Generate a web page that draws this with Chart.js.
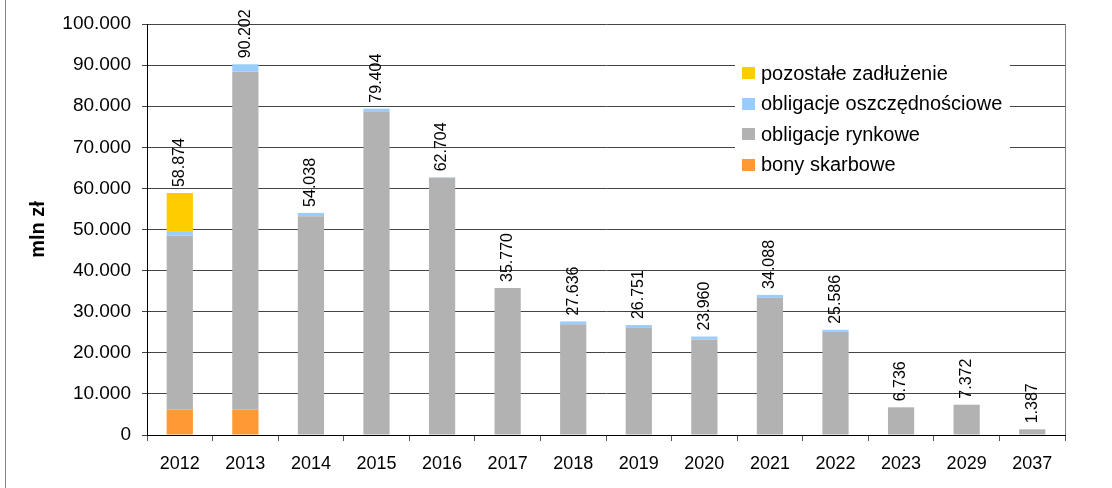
<!DOCTYPE html>
<html>
<head>
<meta charset="utf-8">
<script src="https://cdn.jsdelivr.net/npm/chart.js@4"></script>
<style>
  html, body { margin: 0; padding: 0; background: #fff; }
  #wrap { width: 1112px; height: 488px; position: relative; }
</style>
</head>
<body>
<div id="wrap"><canvas id="chart" width="1112" height="488"></canvas></div>
<script>
// --- data (mln zł) ---
const years = ['2012', '2013', '2014', '2015', '2016', '2017', '2018', '2019', '2020', '2021', '2022', '2023', '2029', '2037'];
const bonySkarbowe = [6200, 6200, 0, 0, 0, 0, 0, 0, 0, 0, 0, 0, 0, 0];
const obligacjeRynkowe = [42300, 82202, 53238, 78800, 62600, 35770, 26936, 26051, 23260, 33388, 25086, 6736, 7372, 1387];
const obligacjeOszczednosciowe = [1100, 1800, 800, 604, 104, 0, 700, 700, 700, 700, 500, 0, 0, 0];
const pozostaleZadluzenie = [9274, 0, 0, 0, 0, 0, 0, 0, 0, 0, 0, 0, 0, 0];
const yTicks = [0, 10000, 20000, 30000, 40000, 50000, 60000, 70000, 80000, 90000, 100000];

const FONT = '"Liberation Sans", Arial, sans-serif';

function fmt(v) {
  return String(Math.round(v)).replace(/\B(?=(\d{3})+(?!\d))/g, '.');
}

// legend, drawn inside the plot like the original
const legendItems = [
  {label: 'pozostałe zadłużenie', color: '#FFCC00'},
  {label: 'obligacje oszczędnościowe', color: '#99CCFF'},
  {label: 'obligacje rynkowe', color: '#B2B2B2'},
  {label: 'bony skarbowe', color: '#FF9933'}
];

const extrasPlugin = {
  id: 'extras',
  afterDatasetsDraw(chart) {
    const ctx = chart.ctx;
    const y = chart.scales.y;
    const meta = chart.getDatasetMeta(0);
    // total labels above bars, rotated
    ctx.save();
    ctx.fillStyle = '#000';
    ctx.font = '16px ' + FONT;
    ctx.textAlign = 'left';
    ctx.textBaseline = 'middle';
    years.forEach((yr, i) => {
      const total = bonySkarbowe[i] + obligacjeRynkowe[i] + obligacjeOszczednosciowe[i] + pozostaleZadluzenie[i];
      const px = meta.data[i].x;
      const py = y.getPixelForValue(total) - 6;
      ctx.save();
      ctx.translate(px, py);
      ctx.rotate(-Math.PI / 2);
      ctx.fillText(fmt(total), 0, 0);
      ctx.restore();
    });
    ctx.restore();
  },
  afterDraw(chart) {
    const ctx = chart.ctx;
    const a = chart.chartArea;
    ctx.save();
    // plot area right border
    ctx.strokeStyle = '#808080';
    ctx.lineWidth = 1;
    ctx.beginPath();
    ctx.moveTo(Math.round(a.right) + 0.5, a.top);
    ctx.lineTo(Math.round(a.right) + 0.5, a.bottom);
    ctx.stroke();
    // outer frame (left edge)
    ctx.strokeStyle = '#888';
    ctx.beginPath();
    ctx.moveTo(5.5, 0);
    ctx.lineTo(5.5, 488);
    ctx.stroke();
    // legend box
    ctx.fillStyle = '#fff';
    ctx.fillRect(735, 55, 275, 128);
    ctx.font = '20px ' + FONT;
    ctx.textAlign = 'left';
    ctx.textBaseline = 'middle';
    legendItems.forEach((it, k) => {
      const cy = 73 + k * 30.5;
      ctx.fillStyle = it.color;
      ctx.fillRect(742, Math.round(cy - 6), 13, 12);
      ctx.fillStyle = '#000';
      ctx.fillText(it.label, 761, cy + 1);
    });
    ctx.restore();
  }
};

new Chart(document.getElementById('chart'), {
  type: 'bar',
  data: {
    labels: years,
    datasets: [
      {label: 'bony skarbowe', data: bonySkarbowe, backgroundColor: '#FF9933'},
      {label: 'obligacje rynkowe', data: obligacjeRynkowe, backgroundColor: '#B2B2B2'},
      {label: 'obligacje oszczędnościowe', data: obligacjeOszczednosciowe, backgroundColor: '#99CCFF'},
      {label: 'pozostałe zadłużenie', data: pozostaleZadluzenie, backgroundColor: '#FFCC00'}
    ]
  },
  options: {
    responsive: false,
    animation: false,
    layout: {padding: {top: 24, right: 47, bottom: 0, left: 0}},
    datasets: {bar: {categoryPercentage: 1, barPercentage: 0.4, borderWidth: 0}},
    plugins: {legend: {display: false}, tooltip: {enabled: false}},
    scales: {
      x: {
        stacked: true,
        offset: true,
        afterFit(s) { s.height = 53; },
        grid: {offset: true, drawOnChartArea: false, drawTicks: true, tickLength: 6, color: '#555'},
        border: {color: '#000', width: 1},
        ticks: {color: '#000', padding: 12, font: {family: FONT, size: 18}, maxRotation: 0}
      },
      y: {
        stacked: true,
        min: 0,
        max: 100000,
        afterFit(s) { s.width = 147; },
        afterBuildTicks(s) { s.ticks = yTicks.map(v => ({value: v})); },
        grid: {color: '#444', lineWidth: 1, tickLength: 5},
        border: {color: '#000', width: 1},
        ticks: {color: '#000', padding: 11, font: {family: FONT, size: 19}, callback: v => fmt(v)},
        title: {display: true, text: 'mln zł', color: '#000', padding: {top: 26, bottom: 0}, font: {family: FONT, size: 20, weight: 'bold'}}
      }
    }
  },
  plugins: [extrasPlugin]
});
</script>
</body>
</html>
